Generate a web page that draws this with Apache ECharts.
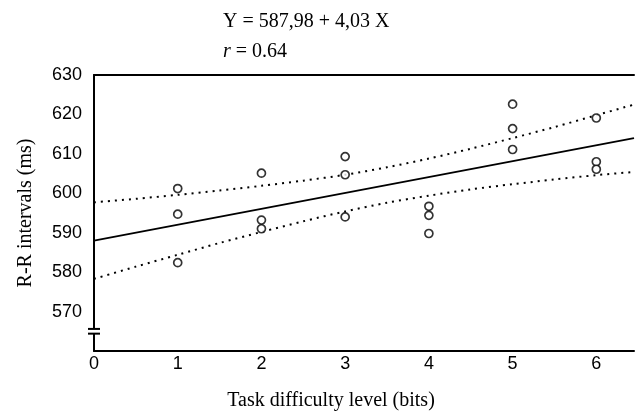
<!DOCTYPE html>
<html>
<head>
<meta charset="utf-8">
<script src="https://cdn.jsdelivr.net/npm/echarts@6/dist/echarts.min.js"></script>
<style>html,body{margin:0;padding:0;background:#fff;}#c{width:637px;height:416px;}</style>
</head>
<body>
<div id="c"></div>
<script>
// Observations (task difficulty in bits, R-R interval in ms)
const obsX = [1, 1, 1, 2, 2, 2, 3, 3, 3, 4, 4, 4, 5, 5, 5, 6, 6, 6];
const obsY = [601.2, 594.7, 582.4, 605.1, 593.2, 591.0, 609.3, 604.7, 594.0,
              596.7, 594.4, 589.8, 622.6, 616.4, 611.1, 619.1, 608.0, 606.1];
// Regression line end points (Y = 587.98 + 4.03 X)
const fitX = [0, 6.45];
const fitY = [587.98, 613.97];
// Confidence band
const bandX = [0, 0.5, 1, 1.5, 2, 2.5, 3, 3.5, 4, 4.5, 5, 5.5, 6, 6.45];
const bandUpper = [597.7, 598.6, 599.6, 600.7, 601.9, 603.2, 604.7, 606.6, 608.8, 611.3, 614.0, 616.8, 619.8, 622.5];
const bandLower = [578.3, 581.4, 584.4, 587.4, 590.2, 592.9, 595.4, 597.6, 599.4, 601.0, 602.3, 603.5, 604.6, 605.4];
const yTicks = [570, 580, 590, 600, 610, 620, 630];
const xTicks = [0, 1, 2, 3, 4, 5, 6];

const zip = (a, b) => a.map((v, i) => [v, b[i]]);
const sans = 'Liberation Sans';
const serif = 'Liberation Serif';

const chart = echarts.init(document.getElementById('c'), null, {renderer: 'canvas'});
const option = {
  animation: false,
  backgroundColor: '#fff',
  title: {
    left: 218, top: 2,
    text: 'Y = 587,98 + 4,03 X\n{i|r} = 0.64',
    textStyle: {
      fontFamily: serif, fontSize: 20, fontWeight: 'normal', color: '#000', lineHeight: 30,
      rich: { i: { fontFamily: serif, fontSize: 20, fontStyle: 'italic', color: '#000' } }
    }
  },
  grid: { left: 94, right: 0, top: 75, bottom: 64, containLabel: false },
  xAxis: [{
    type: 'value', min: 0, max: 6.45, interval: 1,
    name: 'Task difficulty level (bits)', nameLocation: 'middle', nameGap: 40,
    nameTextStyle: { fontFamily: serif, fontSize: 20, color: '#000', padding: [0, 66, 0, 0] },
    axisLine: { show: true, lineStyle: { color: '#000', width: 2 } },
    axisTick: { show: false },
    splitLine: { show: false },
    axisLabel: {
      fontFamily: sans, fontSize: 18, color: '#000', margin: 4,
      formatter: v => xTicks.includes(v) ? String(v) : ''
    }
  }, {
    type: 'value', position: 'top', min: 0, max: 6.45, interval: 1,
    axisLine: { show: true, lineStyle: { color: '#000', width: 2 } },
    axisTick: { show: false }, axisLabel: { show: false }, splitLine: { show: false }
  }],
  yAxis: {
    type: 'value', min: 560, max: 630, interval: 10,
    name: 'R-R intervals (ms)', nameLocation: 'middle', nameGap: 58,
    nameTextStyle: { fontFamily: serif, fontSize: 20, color: '#000' },
    axisLine: { show: true, onZero: false, lineStyle: { color: '#000', width: 2 } },
    axisTick: { show: false },
    splitLine: { show: false },
    axisLabel: {
      fontFamily: sans, fontSize: 18, color: '#000', margin: 12,
      formatter: v => yTicks.includes(v) ? String(v) : ''
    }
  },
  series: [
    {
      type: 'line', data: zip(fitX, fitY), symbol: 'none',
      lineStyle: { color: '#000', width: 1.8 }, z: 3
    },
    {
      type: 'line', data: zip(bandX, bandUpper), symbol: 'none', smooth: 0.3,
      lineStyle: { color: '#000', width: 2, type: [2, 5] }, z: 3
    },
    {
      type: 'line', data: zip(bandX, bandLower), symbol: 'none', smooth: 0.3,
      lineStyle: { color: '#000', width: 2, type: [2, 5] }, z: 3
    },
    {
      type: 'scatter', data: zip(obsX, obsY), symbol: 'circle', symbolSize: 8,
      itemStyle: { color: '#fff', borderColor: '#000', borderWidth: 1.7 }, z: 4
    }
  ]
};
chart.setOption(option);

// Axis break mark on the y axis
const xa = chart.convertToPixel({xAxisIndex: 0}, 0);
const yb1 = chart.convertToPixel({yAxisIndex: 0}, 565.6);
const yb2 = chart.convertToPixel({yAxisIndex: 0}, 564.4);
chart.setOption({
  graphic: [
    { type: 'rect', shape: { x: xa - 3, y: yb1, width: 6, height: yb2 - yb1 }, style: { fill: '#fff' }, z: 100 },
    { type: 'line', shape: { x1: xa - 6, y1: yb1, x2: xa + 6, y2: yb1 }, style: { stroke: '#000', lineWidth: 2 }, z: 101 },
    { type: 'line', shape: { x1: xa - 6, y1: yb2, x2: xa + 6, y2: yb2 }, style: { stroke: '#000', lineWidth: 2 }, z: 101 }
  ]
});
</script>
</body>
</html>
